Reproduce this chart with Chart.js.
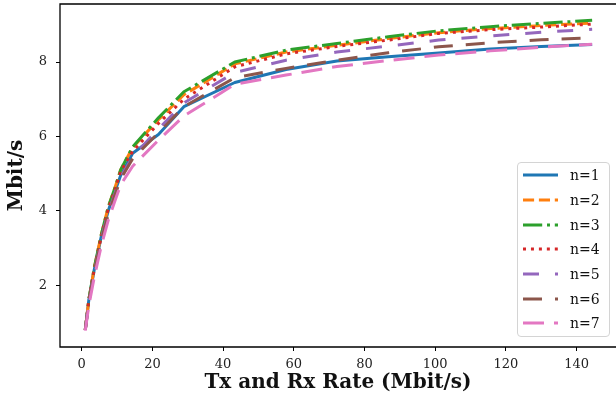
<!DOCTYPE html>
<html>
<head>
<meta charset="utf-8">
<script src="https://cdn.jsdelivr.net/npm/chart.js@4"></script>
<style>
  body { margin: 0; background: #fff; }
  #wrap { position: relative; width: 616px; height: 410px; }
  #leyenda {
    position: absolute; left: 517px; top: 162px; width: 93px; height: 175px;
    box-sizing: border-box; border: 1px solid #d4d4d4; border-radius: 4px;
    background: rgba(255,255,255,0.8);
    font-family: "DejaVu Serif", serif; font-size: 14px; color: #111;
  }
  #leyenda .fila { display: flex; align-items: center; height: 24.7px; }
  #leyenda svg { margin-left: 5px; margin-right: 12px; }
</style>
</head>
<body>
<div id="wrap">
  <canvas id="grafico" width="616" height="410"></canvas>
  <div id="leyenda"></div>
</div>
<script>
// Tasas Tx/Rx (Mbit/s)
const tasas = [1, 2, 3.5, 5.5, 7.5, 9.5, 11, 14.4, 21.7, 28.9, 43.3, 57.8, 72.2, 86.7, 101, 115.6, 130, 144.4];

// Throughput medido (Mbit/s) para cada n
const n1 = [0.8, 1.6, 2.4, 3.3, 4.0, 4.55, 4.95, 5.55, 6.05, 6.8, 7.45, 7.8, 8.03, 8.14, 8.24, 8.35, 8.42, 8.47];
const n2 = [0.8, 1.6, 2.45, 3.35, 4.1, 4.65, 5.1, 5.7, 6.45, 7.12, 7.95, 8.27, 8.45, 8.63, 8.79, 8.9, 8.98, 9.05];
const n3 = [0.8, 1.6, 2.45, 3.35, 4.1, 4.65, 5.1, 5.72, 6.5, 7.2, 8.0, 8.32, 8.5, 8.68, 8.84, 8.95, 9.04, 9.12];
const n4 = [0.8, 1.6, 2.4, 3.3, 4.05, 4.6, 5.05, 5.6, 6.35, 7.0, 7.87, 8.22, 8.42, 8.59, 8.77, 8.87, 8.94, 9.02];
const n5 = [0.8, 1.55, 2.35, 3.25, 3.95, 4.5, 4.9, 5.45, 6.2, 6.9, 7.72, 8.05, 8.27, 8.43, 8.59, 8.7, 8.8, 8.88];
const n6 = [0.8, 1.55, 2.35, 3.2, 3.9, 4.45, 4.85, 5.4, 6.1, 6.8, 7.58, 7.83, 8.05, 8.25, 8.41, 8.52, 8.6, 8.65];
const n7 = [0.78, 1.45, 2.2, 3.05, 3.75, 4.3, 4.7, 5.2, 5.9, 6.55, 7.4, 7.65, 7.88, 8.04, 8.19, 8.3, 8.4, 8.48];

const etiquetas = ['n=1', 'n=2', 'n=3', 'n=4', 'n=5', 'n=6', 'n=7'];
const ticksX = [0, 20, 40, 60, 80, 100, 120, 140];
const ticksY = [2, 4, 6, 8];

const colores = ['#1f77b4', '#ff7f0e', '#2ca02c', '#d62728', '#9467bd', '#8c564b', '#e377c2'];
const trazos = [[], [11.1, 4.8], [19.2, 4.8, 3, 4.8], [3, 4.95], [16, 16], [19, 13], [21, 10]];

const series = [n1, n2, n3, n4, n5, n6, n7];
const datasets = series.map((valores, i) => ({
    label: etiquetas[i],
    data: valores.map((v, k) => ({ x: tasas[k], y: v })),
    borderColor: colores[i],
    borderWidth: 3,
    borderDash: trazos[i],
    borderCapStyle: 'butt',
    borderJoinStyle: 'round',
    pointRadius: 0,
    tension: 0,
    fill: false,
    order: series.length - i   // el ultimo queda encima, como en matplotlib
}));

// Marco (izquierda, arriba, abajo); el borde derecho queda fuera de la imagen
const marco = {
    id: 'marco',
    afterDatasetsDraw(chart) {
        const a = chart.chartArea;
        const ctx = chart.ctx;
        ctx.save();
        ctx.strokeStyle = '#000';
        ctx.lineWidth = 1.3;
        ctx.beginPath();
        ctx.moveTo(chart.width + 2, a.top);
        ctx.lineTo(a.left, a.top);
        ctx.lineTo(a.left, a.bottom);
        ctx.lineTo(chart.width + 2, a.bottom);
        ctx.stroke();
        ctx.restore();
    }
};

const fuenteTicks = { family: '"DejaVu Serif", serif', size: 13 };
const fuenteTitulo = { family: '"DejaVu Serif", serif', size: 20, weight: 'bold' };

new Chart(document.getElementById('grafico').getContext('2d'), {
    type: 'line',
    data: { datasets },
    options: {
        responsive: false,
        animation: false,
        devicePixelRatio: 1,
        layout: { padding: { top: 4, right: 0, left: 0, bottom: 0 } },
        plugins: { legend: { display: false }, tooltip: { enabled: false } },
        scales: {
            x: {
                type: 'linear',
                min: -6.15,
                max: 151.15,
                afterBuildTicks: s => { s.ticks = ticksX.map(v => ({ value: v })); },
                afterFit: s => { s.height = 63; s.paddingLeft = 0; s.paddingRight = 0; },
                border: { display: false },
                grid: { drawOnChartArea: false, drawTicks: true, tickLength: 4, tickColor: '#000', tickWidth: 1 },
                ticks: { color: '#222', font: fuenteTicks, padding: 6, maxRotation: 0 },
                title: { display: true, text: 'Tx and Rx Rate (Mbit/s)', color: '#111', font: fuenteTitulo, padding: { top: 0, bottom: 15 } }
            },
            y: {
                type: 'linear',
                min: 0.34,
                max: 9.56,
                afterBuildTicks: s => { s.ticks = ticksY.map(v => ({ value: v })); },
                afterFit: s => { s.width = 60; s.paddingTop = 0; s.paddingBottom = 0; },
                border: { display: false },
                grid: { drawOnChartArea: false, drawTicks: true, tickLength: 4, tickColor: '#000', tickWidth: 1 },
                ticks: { color: '#222', font: fuenteTicks, padding: 9 },
                title: { display: true, text: 'Mbit/s', color: '#111', font: fuenteTitulo, padding: { top: 5, bottom: 0 } }
            }
        }
    },
    plugins: [marco]
});

// Leyenda en HTML, dentro del area del grafico
const leyenda = document.getElementById('leyenda');
leyenda.innerHTML = etiquetas.map((txt, i) => `
    <div class="fila">
        <svg width="35" height="6"><line x1="0" y1="3" x2="35" y2="3" stroke="${colores[i]}" stroke-width="3" stroke-dasharray="${trazos[i].join(' ') || 'none'}"/></svg>
        <span>${txt}</span>
    </div>`).join('');
</script>
</body>
</html>
